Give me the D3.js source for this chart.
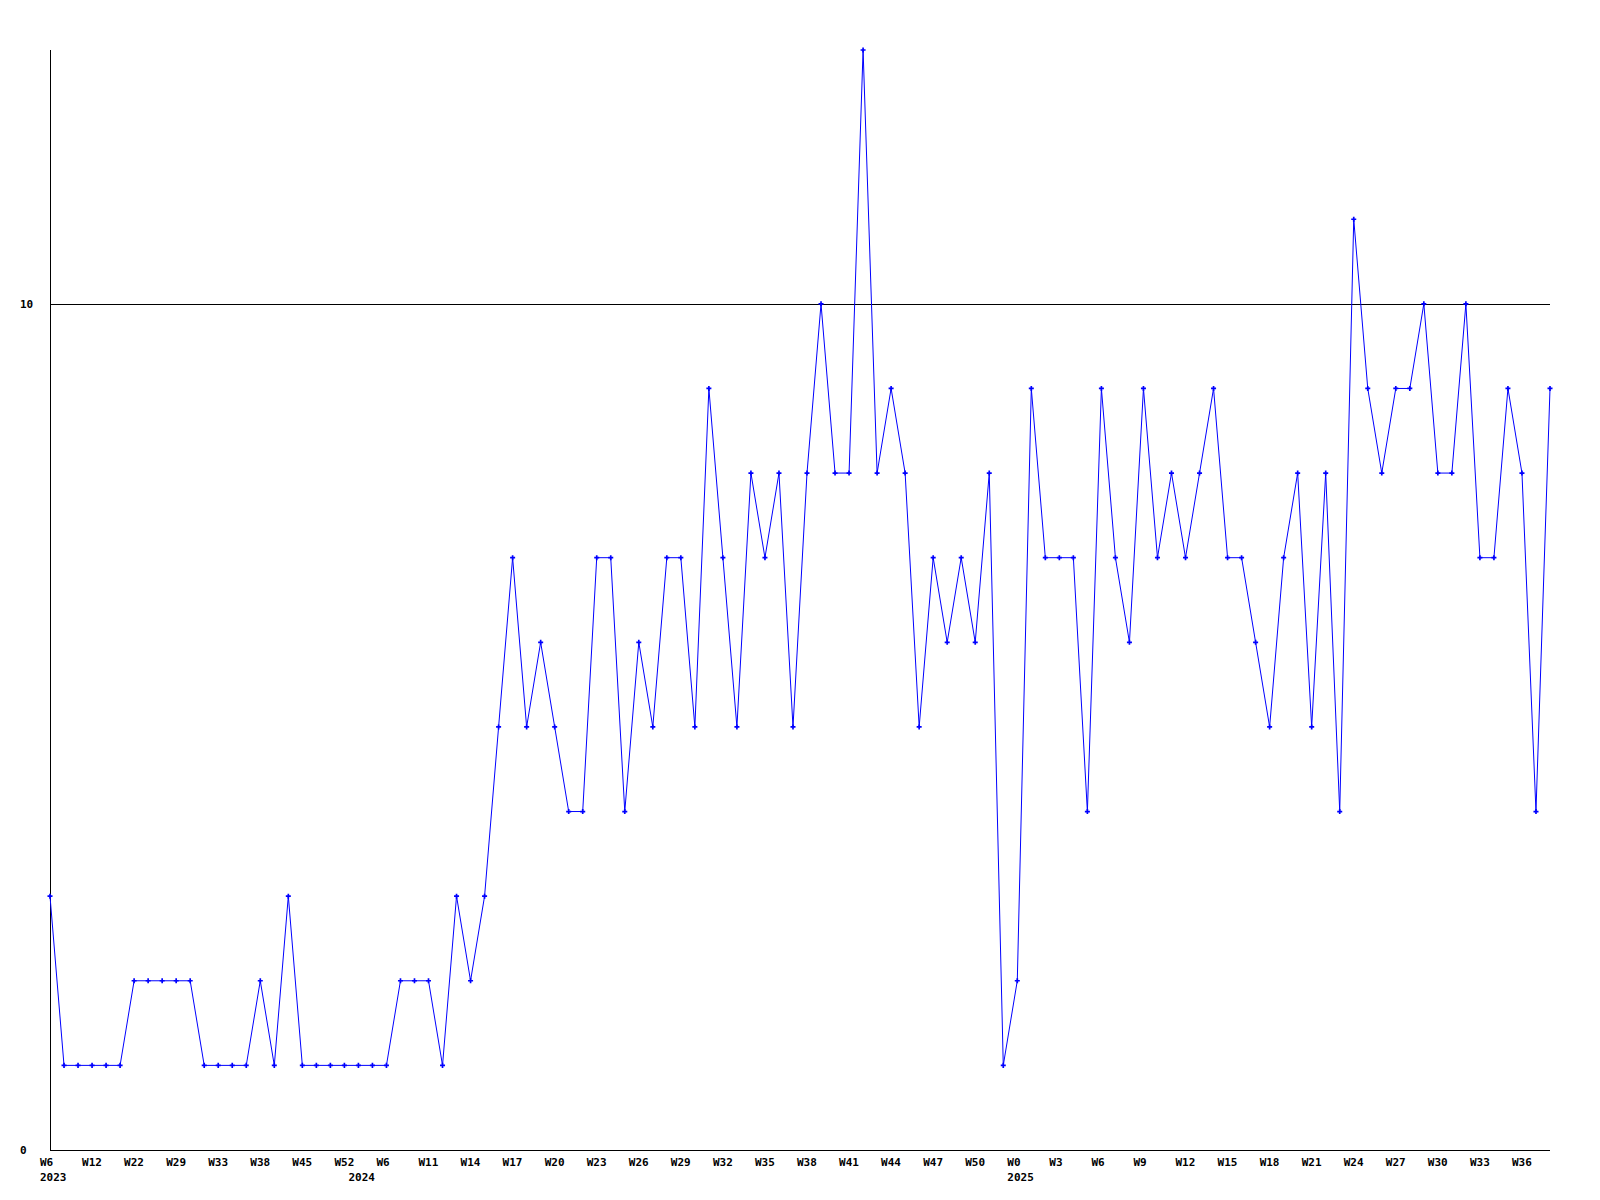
<!DOCTYPE html>
<html>
<head>
<meta charset="utf-8">
<script src="https://cdn.jsdelivr.net/npm/d3@7"></script>
<style>
  html, body { margin: 0; padding: 0; background: #ffffff; }
  svg { display: block; }
  text { font-family: "DejaVu Sans Mono", "Liberation Mono", monospace; font-weight: bold; font-size: 11px; fill: #000; }
</style>
</head>
<body>
<svg id="chart" width="1600" height="1200"></svg>
<script>
// ---- data ----
const values = [
  3, 1, 1, 1, 1, 1, 2, 2, 2, 2,
  2, 1, 1, 1, 1, 2, 1, 3, 1, 1,
  1, 1, 1, 1, 1, 2, 2, 2, 1, 3,
  2, 3, 5, 7, 5, 6, 5, 4, 4, 7,
  7, 4, 6, 5, 7, 7, 5, 9, 7, 5,
  8, 7, 8, 5, 8, 10, 8, 8, 13, 8,
  9, 8, 5, 7, 6, 7, 6, 8, 1, 2,
  9, 7, 7, 7, 4, 9, 7, 6, 9, 7,
  8, 7, 8, 9, 7, 7, 6, 5, 7, 8,
  5, 8, 4, 11, 9, 8, 9, 9, 10, 8,
  8, 10, 7, 7, 9, 8, 4, 9
];
const tickLabels = [
  "W6", "W12", "W22", "W29", "W33", "W38", "W45", "W52", "W6", "W11",
  "W14", "W17", "W20", "W23", "W26", "W29", "W32", "W35", "W38", "W41",
  "W44", "W47", "W50", "W0", "W3", "W6", "W9", "W12", "W15", "W18",
  "W21", "W24", "W27", "W30", "W33", "W36"
];
const tickEvery = 3;
const yearLabels = ["2023", "2024", "2025"];
const yearStartIndex = [0, 22, 69];
const yTicks = [0, 10];
const yMax = 13;

// ---- chart ----
const svg = d3.select("#chart");
const x = d3.scaleLinear().domain([0, values.length - 1]).range([50, 1550]);
const y = d3.scaleLinear().domain([0, yMax]).range([1150, 50]);

// grid line at 10
svg.append("g").selectAll("line.grid")
  .data(yTicks.filter(v => v > 0))
  .join("line")
  .attr("x1", x(0)).attr("x2", x(values.length - 1))
  .attr("y1", d => Math.round(y(d)) + 0.5).attr("y2", d => Math.round(y(d)) + 0.5)
  .attr("stroke", "#000").attr("stroke-width", 1).attr("shape-rendering", "crispEdges");

// axes
svg.append("line")
  .attr("x1", x(0) + 0.5).attr("x2", x(0) + 0.5)
  .attr("y1", y(yMax)).attr("y2", y(0) + 1)
  .attr("stroke", "#000").attr("shape-rendering", "crispEdges");
svg.append("line")
  .attr("x1", x(0)).attr("x2", x(values.length - 1))
  .attr("y1", Math.round(y(0)) + 0.5).attr("y2", Math.round(y(0)) + 0.5)
  .attr("stroke", "#000").attr("shape-rendering", "crispEdges");

// y labels
svg.append("g").selectAll("text")
  .data(yTicks)
  .join("text")
  .attr("x", 20)
  .attr("y", d => y(d) + 4)
  .text(d => d);

// x labels
const xl = svg.append("g");
xl.selectAll("text.wk")
  .data(tickLabels)
  .join("text")
  .attr("class", "wk")
  .attr("x", (d, i) => x(i * tickEvery) - 10)
  .attr("y", 1166)
  .text(d => d);
xl.selectAll("text.yr")
  .data(yearLabels)
  .join("text")
  .attr("class", "yr")
  .attr("x", (d, i) => x(yearStartIndex[i]) - 10)
  .attr("y", 1181)
  .text(d => d);

// data line
const line = d3.line().x((d, i) => x(i)).y(d => y(d));
svg.append("path")
  .datum(values)
  .attr("d", line)
  .attr("fill", "none")
  .attr("stroke", "#0000ff")
  .attr("stroke-width", 1);

// markers
svg.append("g").selectAll("path")
  .data(values)
  .join("path")
  .attr("transform", (d, i) => `translate(${x(i)},${y(d)})`)
  .attr("d", d3.symbol(d3.symbolCross, 14)())
  .attr("fill", "#0000ff");
</script>
</body>
</html>
